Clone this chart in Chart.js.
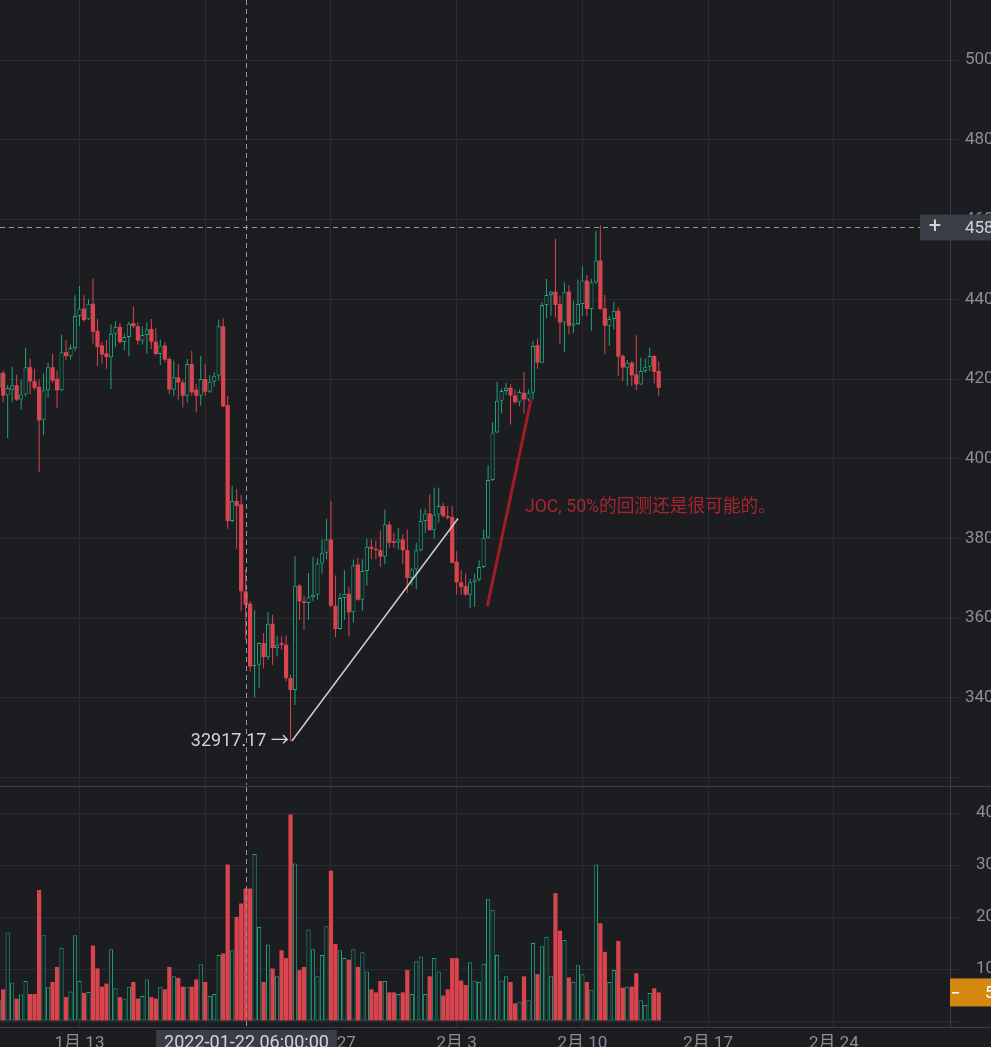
<!DOCTYPE html>
<html><head><meta charset="utf-8">
<script src="https://cdn.jsdelivr.net/npm/chart.js@4.4.1/dist/chart.umd.min.js"></script>
<style>
html,body{margin:0;padding:0;background:#1c1d21;width:991px;height:1047px;overflow:hidden;}
#wrap{position:relative;width:991px;height:1047px;}
#c1{position:absolute;left:0;top:0;}
#sep{position:absolute;left:0;top:786px;width:991px;height:1px;background:#3c3e44;}
#c2{position:absolute;left:0;top:787px;}
</style></head><body>
<div id="wrap"><canvas id="c1" width="991" height="786"></canvas><div id="sep"></div><canvas id="c2" width="991" height="260"></canvas></div>
<script>
// 6h candles, index 0 = 2022-01-08 12:00
const openP = [41780,42155,41585,41720,41845,41484,41610,42298,41945,41803,
 40964,41719,42298,42004,41719,42675,42574,42776,43580,43765,
 43500,43890,43212,42843,42641,42549,43136,43312,42927,43052,
 43400,43325,42964,43107,43258,42939,42629,42839,42503,41732,
 42042,41916,41581,42377,41732,41581,42000,41681,41933,42084,
 43325,41346,38436,38939,38855,36675,36365,34788,34830,35375,
 35023,35861,35249,35375,35333,34495,34201,36817,36423,36381,
 36524,36591,37371,37639,37975,36314,35727,36507,36616,36147,
 37351,36462,37185,37792,37742,37709,37543,38349,37933,37891,
 37975,37706,37010,37220,37706,38436,38629,38209,38604,38813,
 38562,38537,37421,36901,36801,36591,36901,36968,37287,38017,
 39467,40658,41455,41700,41782,41588,41420,41656,41488,41656,
 42849,42412,43857,44109,44193,43882,43420,44193,43336,43378,
 43882,44471,43756,44429,44975,43773,43336,43504,43714,42580,
 42286,42412,42118,41866,42202,42311,42580,42202];
const highP = [42200,42214,41850,42306,42105,41987,42784,42507,42256,41987,
 42130,42407,42633,42214,43111,42977,42860,44100,44335,44100,
 44000,44520,43515,42927,42977,43370,43455,43413,43136,43430,
 43828,43426,43325,43426,43509,43275,42990,42922,42545,42461,
 42377,41983,42503,42713,41874,42587,42377,42101,42168,43493,
 43526,41581,39316,39233,39082,37220,36423,36197,35400,35627,
 36147,36088,35560,35543,35560,34580,37555,36850,36566,37136,
 37539,37513,37975,38495,38939,37069,36633,37203,36784,37471,
 37518,37476,37992,37975,37950,38208,38723,38432,38142,38268,
 38100,38226,37262,37891,38746,38746,39107,39275,39275,38898,
 38813,38813,37681,37203,37119,36985,37119,37455,38226,39836,
 40910,41933,41765,41900,41870,41740,41740,42177,41740,42958,
 43017,43924,44513,44218,45521,44092,44429,44361,43966,44496,
 44832,44613,44513,45706,45857,44109,43588,43941,43798,42622,
 42479,42454,43101,42538,42513,42790,42597,42454];
const lowP = [41700,41417,40520,41417,41450,41233,41560,41610,41719,39664,
 40587,41526,41900,41275,41694,42474,42490,42700,43330,43430,
 43480,42893,42323,42390,42256,41753,42800,42893,42725,42574,
 43275,42864,42864,42629,42755,42600,42352,42419,41623,41581,
 41480,41287,41413,41581,41161,41329,41581,41648,41816,41958,
 41290,38243,38400,37740,36172,35459,34662,34017,34243,34746,
 34956,34830,35040,35207,34411,32917.17,33824,35962,35711,35962,
 36423,36465,37119,37471,36280,35526,35711,35962,35543,35895,
 36437,36187,36811,37476,37476,37293,37351,37767,37765,37723,
 37346,36633,36817,36733,37681,38142,38200,37991,38394,38520,
 38478,37370,36591,36591,36560,36256,36281,36926,37262,37991,
 39442,40641,41145,41600,40857,41380,41320,41135,41446,41488,
 42261,42395,43521,43588,43546,42874,42681,43126,43151,43353,
 43588,43571,43210,44387,43740,42622,42832,43252,42076,41950,
 41824,41824,41723,41849,42160,42202,41891,41572];
const closeP = [42150,41585,41778,41845,41484,41610,42298,41945,41778,40964,
 41719,42298,41962,41719,42675,42574,42776,43580,43765,43480,
 43890,43187,42800,42616,42549,43136,43312,42927,43052,43388,
 43325,42964,43107,43241,42939,42629,42839,42486,41732,42042,
 41916,41581,42377,41665,41581,42000,41681,41933,42084,43325,
 41312,38436,38939,38813,36675,36339,34788,34830,35375,35023,
 35861,35249,35333,35333,34495,34201,36817,36423,36381,36524,
 36591,37371,37639,37975,36314,35727,36507,36616,36147,37329,
 36462,37185,37792,37742,37709,37543,38349,37892,37891,37975,
 37706,37010,37220,37706,38436,38629,38209,38604,38813,38562,
 38520,37388,36901,36784,36591,36901,36968,37287,38017,39467,
 40658,41455,41700,41780,41588,41420,41672,41488,41656,42832,
 42412,43857,44109,44193,43857,43420,44193,43336,43403,43882,
 44471,43756,44429,44975,43756,43336,43504,43714,42563,42286,
 42412,42093,41866,42202,42311,42580,42177,41782];
// volume in thousands
const volume = [4.1,6.1,17,7.4,4.3,5.1,7.7,5.2,5.2,25.2,
 16.5,6.5,7.5,10.4,14.1,4.6,5.7,16.5,7.7,5.4,
 5.6,14.5,10.1,6.6,7.2,13.8,6.3,4.6,4.2,6.6,
 7.5,4.3,4.8,8.0,4.6,4.3,6.6,6.1,10.4,8.6,
 8.3,6.6,6.6,6.6,8.0,10.9,7.5,4.8,5.2,12.7,
 13.0,30.1,13.6,20.0,22.6,25.5,25.5,32.1,18.1,7.5,
 14.7,10.1,8.6,13.6,12.1,39.7,30.3,9.8,10.4,17.6,
 13.8,8.6,12.7,18.2,28.9,14.8,13.6,12.1,11.8,13.8,
 10.4,13.2,9.5,6.1,5.5,7.7,7.7,5.5,5.5,5.2,
 5.5,9.8,5.2,11.5,12.4,5.2,8.6,12.1,9.5,4.9,
 6.1,12.1,12.1,7.8,6.9,11.3,7.8,7.5,11.0,23.5,
 21.4,12.7,7.8,8.6,7.5,3.4,3.7,8.6,4.0,15.0,
 9.0,14.4,16.2,8.6,24.6,17.4,15.6,8.4,7.5,10.7,
 9.0,7.5,6.0,30.1,18.8,13.3,7.5,9.8,15.4,6.4,
 6.6,6.6,9.2,4.0,3.1,5.4,6.3,5.5];
const weekTickIndex = [18,46,74,102,130,158,186];
const weekTickLabels = ['1月 13','1月 20','1月 27','2月 3','2月 10','2月 17','2月 24'];
const priceTicks = [32000,34000,36000,38000,40000,42000,44000,46000,48000,50000];
const volumeTicks = [0,10,20,30,40];
const lowLabel = '32917.17 →';
const noteText = 'JOC, 50%的回测还是很可能的。';
const crossIndex = 55, crossPrice = 45805, crossTimeText = '2022-01-22 06:00:00', crossPriceText = '45805.00';
const whiteLine = [[65.3, 32917.17],[102.3, 38500]];
const redLine = [[108.9, 36330],[118.5, 41450]];
const noteAt = [117.2, 38763];
const lastVolumeText = '5.53K';

const bg='#1c1d21', gridC='#2b2c31', borderC='#3c3e44', textC='#8b8e96', lightC='#d1d4dc';
const upC='#1fa47e', downC='#d9444f', crossC='#9598a1';
const FONT='Roboto, "Noto Sans CJK SC", sans-serif';
Chart.defaults.font.family = FONT;
const xMin=0.294, xMax=211.87;
const isUp = i => closeP[i] >= openP[i];
const upArr = openP.map((o,i)=>isUp(i));

const annot1 = {
  id:'annot1',
  afterDraw(chart){
    const {ctx, chartArea:a, scales:{x,y}} = chart;
    ctx.save();
    ctx.strokeStyle=crossC; ctx.lineWidth=1; ctx.setLineDash([5,4]);
    const cx=Math.round(x.getPixelForValue(crossIndex))+0.5;
    const cy=Math.round(y.getPixelForValue(crossPrice))+0.5;
    ctx.beginPath(); ctx.moveTo(cx,a.top); ctx.lineTo(cx,a.bottom); ctx.stroke();
    ctx.beginPath(); ctx.moveTo(a.left,cy); ctx.lineTo(a.right-30,cy); ctx.stroke();
    ctx.setLineDash([]);
    // white line
    ctx.strokeStyle='#cfcfcf'; ctx.lineWidth=1.5;
    ctx.beginPath();
    ctx.moveTo(x.getPixelForValue(whiteLine[0][0]), y.getPixelForValue(whiteLine[0][1]));
    ctx.lineTo(x.getPixelForValue(whiteLine[1][0]), y.getPixelForValue(whiteLine[1][1]));
    ctx.stroke();
    // red line
    ctx.strokeStyle='#a01c26'; ctx.lineWidth=3; ctx.lineCap='round';
    ctx.beginPath();
    ctx.moveTo(x.getPixelForValue(redLine[0][0]), y.getPixelForValue(redLine[0][1]));
    ctx.lineTo(x.getPixelForValue(redLine[1][0]), y.getPixelForValue(redLine[1][1]));
    ctx.stroke();
    // texts
    ctx.font='18px '+FONT; ctx.textBaseline='middle';
    ctx.fillStyle=lightC; ctx.textAlign='right';
    ctx.fillText(lowLabel, x.getPixelForValue(whiteLine[0][0])-3, y.getPixelForValue(whiteLine[0][1]));
    ctx.font='17.7px '+FONT;
    ctx.fillStyle='#a8252f'; ctx.textAlign='left';
    ctx.fillText(noteText, x.getPixelForValue(noteAt[0]), y.getPixelForValue(noteAt[1]));
    // price label box
    ctx.font='17px '+FONT;
    ctx.fillStyle='#3a3d45';
    ctx.fillRect(a.right-30, cy-13, chart.width-(a.right-30), 26);
    ctx.fillStyle=lightC; ctx.textAlign='left';
    ctx.fillText(crossPriceText, a.right+15, cy+1);
    ctx.textAlign='center'; ctx.font='22px '+FONT;
    ctx.fillText('+', a.right-15, cy);
    ctx.restore();
  }
};

new Chart(document.getElementById('c1'), {
  type:'bar',
  data:{datasets:[
    {label:'body', order:0, grouped:false, barThickness:4.2, minBarLength:1, inflateAmount:0,
     data: openP.map((o,i)=>({x:i, y:[o, closeP[i]]})),
     backgroundColor: upArr.map(u=>u?bg:downC),
     borderColor: upArr.map(u=>u?upC:downC),
     borderWidth: upArr.map(u=>u?1:0),
     borderSkipped:false},
    {label:'wick', order:1, grouped:false, barThickness:1, inflateAmount:0,
     data: lowP.map((l,i)=>({x:i, y:[l, highP[i]]})),
     backgroundColor: upArr.map(u=>u?upC:downC), borderWidth:0}
  ]},
  options:{
    responsive:false, animation:false, events:[],
    layout:{padding:0},
    plugins:{legend:{display:false}, tooltip:{enabled:false}},
    scales:{
      x:{type:'linear', min:xMin, max:xMax, offset:false,
         afterBuildTicks:s=>{s.ticks=weekTickIndex.map(v=>({value:v}));},
         ticks:{display:false},
         grid:{color:gridC, drawTicks:false, offset:false},
         border:{display:false},
         afterFit:s=>{s.height=1; s.paddingLeft=0; s.paddingRight=0;}},
      y:{position:'right', min:31815, max:51510,
         afterBuildTicks:s=>{s.ticks=priceTicks.map(v=>({value:v}));},
         ticks:{color:textC, font:{size:17}, padding:7, callback:v=> v===32000?'':v.toFixed(2)},
         grid:{color:gridC, tickLength:8, tickColor:gridC},
         border:{display:true, color:borderC},
         afterFit:s=>{s.width=41; s.paddingTop=0; s.paddingBottom=0;}}
    }
  },
  plugins:[annot1]
});

const annot2 = {
  id:'annot2',
  afterDraw(chart){
    const {ctx, chartArea:a, scales:{x,y}} = chart;
    ctx.save();
    ctx.strokeStyle=borderC; ctx.lineWidth=1;
    ctx.beginPath(); ctx.moveTo(0,a.bottom+0.5); ctx.lineTo(chart.width,a.bottom+0.5); ctx.stroke();
    ctx.strokeStyle=crossC; ctx.setLineDash([5,4]);
    const cx=Math.round(x.getPixelForValue(crossIndex))+0.5;
    ctx.beginPath(); ctx.moveTo(cx,a.top); ctx.lineTo(cx,a.bottom); ctx.stroke();
    ctx.setLineDash([]);
    ctx.font='18px '+FONT;
    const w = ctx.measureText(crossTimeText).width + 16;
    ctx.fillStyle='#3a3d45';
    ctx.fillRect(cx-w/2, a.bottom+3, w, chart.height-a.bottom);
    ctx.fillStyle=lightC; ctx.textAlign='center'; ctx.textBaseline='top';
    ctx.fillText(crossTimeText, cx, a.bottom+7);
    const vy = y.getPixelForValue(volume[volume.length-1]);
    ctx.fillStyle='#d4880f';
    ctx.fillRect(a.right, vy-14, chart.width-a.right, 28);
    ctx.fillStyle='#ffffff';
    ctx.fillRect(a.right+2, Math.round(vy), 7, 1.5);
    ctx.font='17px '+FONT;
    ctx.textAlign='left'; ctx.textBaseline='middle';
    ctx.fillText(lastVolumeText, a.right+35, vy+1);
    ctx.restore();
  }
};

new Chart(document.getElementById('c2'), {
  type:'bar',
  data:{datasets:[
    {label:'volume', grouped:false, barThickness:4.2, inflateAmount:0,
     data: volume.map((v,i)=>({x:i, y:v})),
     backgroundColor: upArr.map(u=>u?bg:downC),
     borderColor: upArr.map(u=>u?upC:downC),
     borderWidth: upArr.map(u=>u?1:0),
     borderSkipped:false}
  ]},
  options:{
    responsive:false, animation:false, events:[],
    layout:{padding:0},
    plugins:{legend:{display:false}, tooltip:{enabled:false}},
    scales:{
      x:{type:'linear', min:xMin, max:xMax, offset:false,
         afterBuildTicks:s=>{s.ticks=weekTickIndex.map(v=>({value:v}));},
         ticks:{color:textC, font:{size:17}, padding:7, autoSkip:false, maxRotation:0,
                callback:v=>weekTickLabels[weekTickIndex.indexOf(v)]},
         grid:{color:gridC, drawTicks:false, offset:false},
         border:{display:false},
         afterFit:s=>{s.height=20; s.paddingLeft=0; s.paddingRight=0;}},
      y:{position:'right', min:-1.15, max:45,
         afterBuildTicks:s=>{s.ticks=volumeTicks.map(v=>({value:v}));},
         ticks:{color:textC, font:{size:17}, padding:18, callback:v=> v===0?'':v+'K'},
         grid:{color:gridC, tickLength:8, tickColor:gridC},
         border:{display:true, color:borderC},
         afterFit:s=>{s.width=41; s.paddingTop=0; s.paddingBottom=0;}}
    }
  },
  plugins:[annot2]
});
</script>
</body></html>
